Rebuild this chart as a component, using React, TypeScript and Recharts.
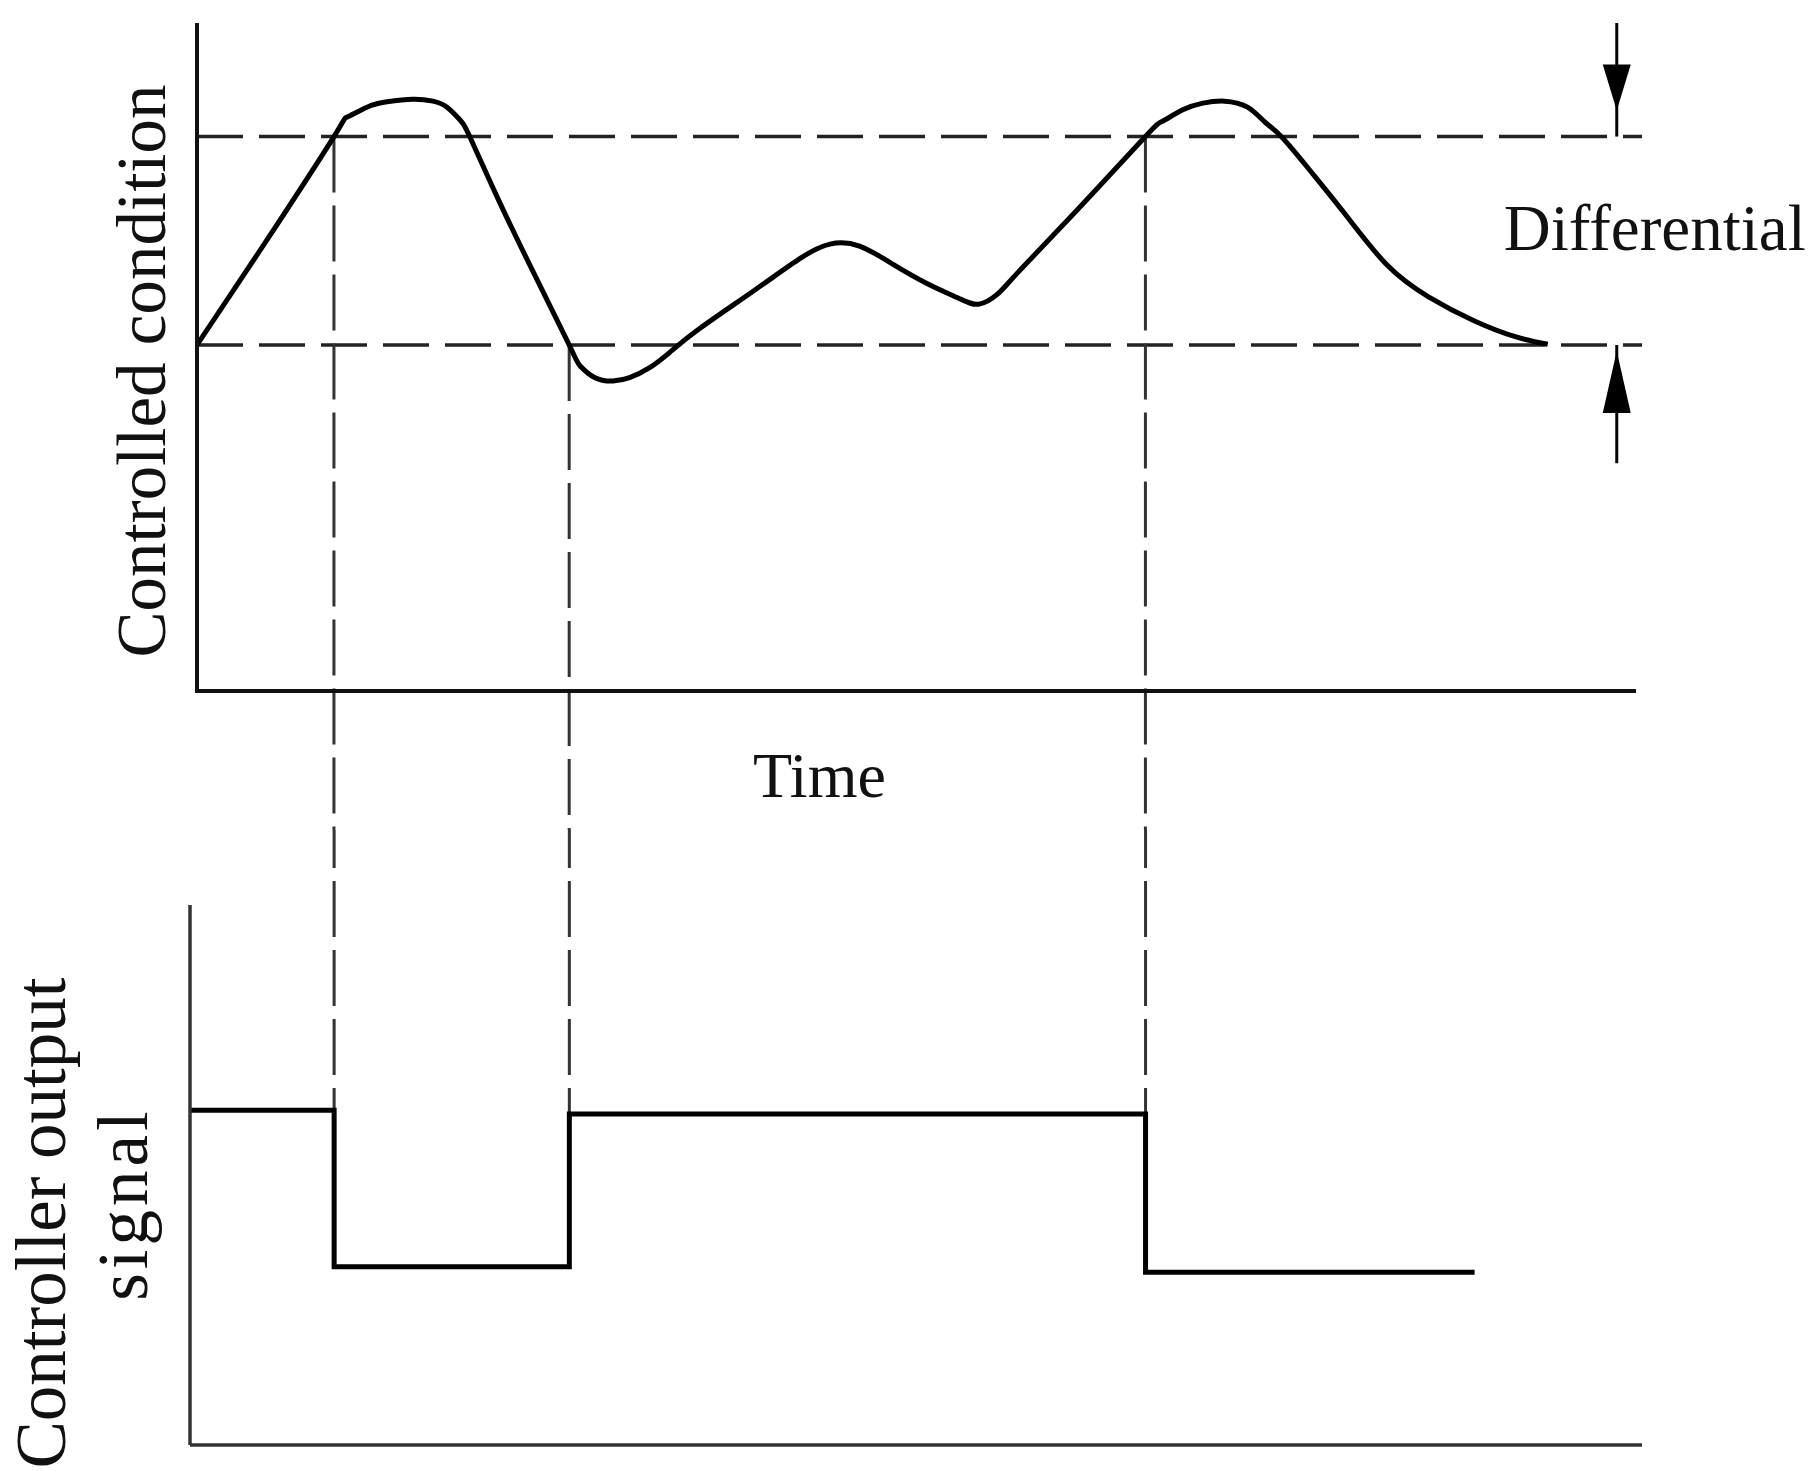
import { LineChart, Line, XAxis, YAxis, ReferenceLine } from "recharts";

// time axis is shared by both panels (arbitrary units)
const curveTime = [
  0, 4.8, 9.53, 10.44, 11.83, 13.22, 15.03, 16.42, 17.4, 18.3, 19.0, 20.9, 23.2, 25.9,
  26.65, 27.7, 28.95, 30.1, 31.5, 32.9, 35.0, 38.8, 42.0, 44.05, 46.1, 48.5, 50.9, 53.0,
  54.4, 55.7, 57.1, 61.2, 66.0, 67.2, 68.6, 70.0, 71.5, 73.1, 74.3, 75.5, 77.5, 80.0,
  82.8, 85.7, 88.9, 91.8, 94.0,
];
const curveLevel = [
  51.8, 67.3, 83.0, 85.9, 87.4, 88.2, 88.6, 88.3, 87.4, 85.5, 82.9, 73.9, 63.6, 51.8,
  48.7, 46.9, 46.4, 46.9, 48.4, 50.7, 54.3, 60.0, 64.8, 66.9, 66.6, 63.8, 60.9, 58.8,
  57.9, 59.4, 62.6, 71.9, 83.0, 85.3, 87.0, 88.0, 88.3, 87.4, 85.2, 82.9, 77.8, 71.1,
  63.8, 59.0, 55.4, 53.0, 51.9,
];

const upperLimit = 83;
const lowerLimit = 51.8;
const switchTimes = [9.53, 25.9, 66.0];

const outputTime = [-0.5, 9.53, 25.9, 66.0, 88.9];
const outputLevel = [62, 33, 61.3, 32, 32];

const curveData = curveTime.map((t, i) => ({ t, level: curveLevel[i] }));
const outputData = outputTime.map((t, i) => ({ t, out: outputLevel[i] }));

const FONT = "'Liberation Serif', 'Times New Roman', serif";
const INK = "#111";

const makeArrow = (gap: number, head: number) => (p: any) => {
  const { x1, y1, x2, y2 } = p;
  const dir = Math.sign(y2 - y1) || 1;
  const tipY = y2 - dir * gap;
  const baseY = tipY - dir * head;
  return (
    <g>
      <line x1={x1} y1={y1} x2={x2} y2={y2} stroke="#000" strokeWidth={3} />
      <polygon points={`${x2 - 14},${baseY} ${x2 + 14},${baseY} ${x2},${tipY}`} fill="#000" />
    </g>
  );
};

const UpperYLabel = (props: any) => {
  const vb = props.viewBox || { x: 97, y: 23, width: 100, height: 668 };
  const cx = vb.x + 68;
  const cy = vb.y + vb.height / 2 + 14;
  return (
    <text x={cx} y={cy} transform={`rotate(-90, ${cx}, ${cy})`} textAnchor="middle" fontFamily={FONT} fontSize={69} fill={INK}>
      Controlled condition
    </text>
  );
};

const TimeLabel = (props: any) => {
  const vb = props.viewBox || { x: 197, y: 691, width: 1437, height: 120 };
  return (
    <text x={vb.x + 556} y={vb.y + 106} textAnchor="start" fontFamily={FONT} fontSize={64} fill={INK}>
      Time
    </text>
  );
};

const DiffLabel = (props: any) => {
  const vb = props.viewBox || { x: 1615, y: 137, width: 0, height: 209 };
  return (
    <text x={vb.x - 113} y={vb.y + 113} textAnchor="start" fontFamily={FONT} fontSize={65} fill={INK}>
      Differential
    </text>
  );
};

const LowerYLabel = (props: any) => {
  const vb = props.viewBox || { x: 90, y: 75, width: 100, height: 540 };
  const mid = vb.y + vb.height / 2;
  const x1 = vb.x - 25;
  const x2 = vb.x + 57;
  const y1 = mid + 48;
  const y2 = mid + 29;
  return (
    <g fontFamily={FONT} fontSize={71} fill={INK}>
      <text x={x1} y={y1} transform={`rotate(-90, ${x1}, ${y1})`} textAnchor="middle">
        Controller output
      </text>
      <text x={x2} y={y2} transform={`rotate(-90, ${x2}, ${y2})`} textAnchor="middle" letterSpacing={4}>
        signal
      </text>
    </g>
  );
};

export default function App() {
  const hDash = { stroke: "#222", strokeWidth: 3.5, strokeDasharray: "46 16" };
  const vDash = { stroke: "#333", strokeWidth: 3, strokeDasharray: "56 13" };

  return (
    <div style={{ position: "absolute", left: 0, top: 0, width: 1820, height: 1471, background: "#fff" }}>
      {/* upper panel: controlled condition */}
      <div style={{ position: "absolute", left: 0, top: 0 }}>
        <LineChart width={1820} height={830} data={curveData} margin={{ top: 23, right: 186, left: 97, bottom: 19 }}>
          <XAxis
            type="number"
            dataKey="t"
            domain={[0, 100]}
            allowDataOverflow
            height={120}
            tick={false}
            tickLine={false}
            axisLine={{ stroke: "#111", strokeWidth: 4, strokeLinecap: "square" }}
            label={<TimeLabel />}
          />
          <YAxis
            type="number"
            domain={[0, 100]}
            allowDataOverflow
            width={100}
            tick={false}
            tickLine={false}
            axisLine={{ stroke: "#111", strokeWidth: 4 }}
            label={<UpperYLabel />}
          />
          <ReferenceLine segment={[{ x: 0, y: upperLimit }, { x: 100.56, y: upperLimit }]} ifOverflow="visible" {...hDash} />
          <ReferenceLine segment={[{ x: 0, y: lowerLimit }, { x: 100.56, y: lowerLimit }]} ifOverflow="visible" {...hDash} />
          {switchTimes.map((t, i) => (
            <ReferenceLine
              key={t}
              segment={[{ x: t, y: i === 1 ? lowerLimit : upperLimit }, { x: t, y: -30 }]}
              ifOverflow="visible"
              {...vDash}
            />
          ))}
          <ReferenceLine segment={[{ x: 98.8, y: 100 }, { x: 98.8, y: upperLimit }]} ifOverflow="visible" shape={makeArrow(26, 46)} />
          <ReferenceLine segment={[{ x: 98.8, y: 34.1 }, { x: 98.8, y: lowerLimit }]} ifOverflow="visible" shape={makeArrow(6, 62)} />
          <ReferenceLine
            segment={[{ x: 98.8, y: upperLimit }, { x: 98.8, y: lowerLimit }]}
            ifOverflow="visible"
            stroke="none"
            label={<DiffLabel />}
          />
          <Line type="natural" dataKey="level" stroke="#000" strokeWidth={5} dot={false} activeDot={false} isAnimationActive={false} />
        </LineChart>
      </div>

      {/* lower panel: controller output signal */}
      <div style={{ position: "absolute", left: 0, top: 830 }}>
        <LineChart width={1820} height={641} data={outputData} margin={{ top: 75, right: 178, left: 90, bottom: 6 }}>
          <XAxis
            type="number"
            dataKey="t"
            domain={[-0.5, 100.55]}
            allowDataOverflow
            height={20}
            tick={false}
            tickLine={false}
            axisLine={{ stroke: "#333", strokeWidth: 3.5 }}
          />
          <YAxis
            type="number"
            domain={[0, 100]}
            allowDataOverflow
            width={100}
            tick={false}
            tickLine={false}
            axisLine={{ stroke: "#333", strokeWidth: 3.5 }}
            label={<LowerYLabel />}
          />
          {switchTimes.map((t, i) => (
            <ReferenceLine
              key={t}
              segment={[{ x: t, y: 130 }, { x: t, y: Math.max(outputLevel[i], outputLevel[i + 1]) }]}
              ifOverflow="visible"
              {...vDash}
            />
          ))}
          <Line type="stepAfter" dataKey="out" stroke="#000" strokeWidth={5} dot={false} activeDot={false} isAnimationActive={false} />
        </LineChart>
      </div>
    </div>
  );
}
